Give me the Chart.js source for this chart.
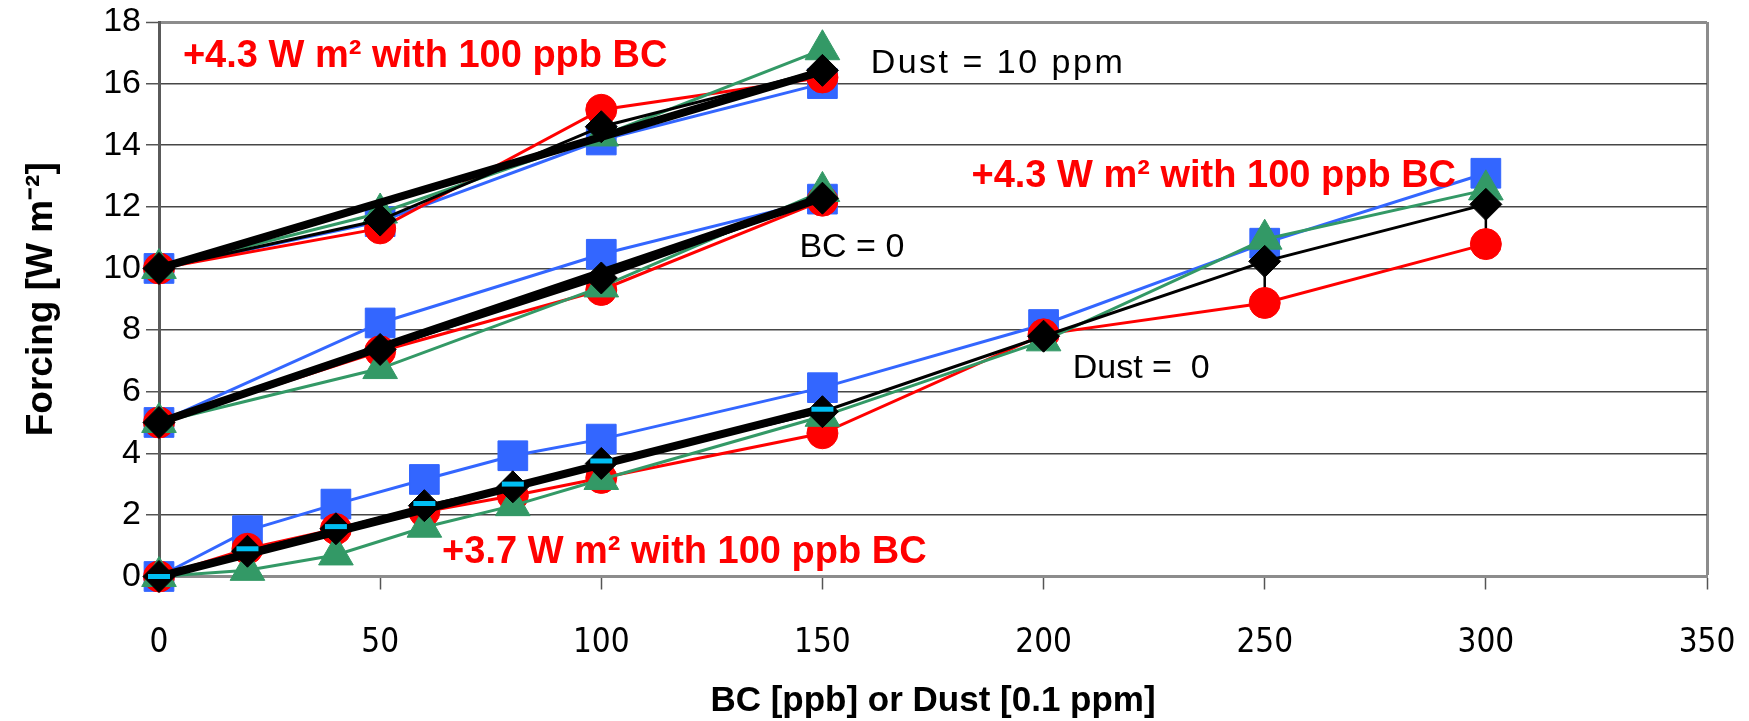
<!DOCTYPE html>
<html>
<head>
<meta charset="utf-8">
<script src="https://cdn.jsdelivr.net/npm/chart.js@4.4.1/dist/chart.umd.min.js"></script>
<style>
html, body { margin: 0; padding: 0; background: #fff; }
#wrap { width: 1749px; height: 721px; }
</style>
</head>
<body>
<div id="wrap"><canvas id="myChart" width="1749" height="721"></canvas></div>
<script>
// Dust = 10 ppm, BC varies
var xA = [0, 50, 100, 150];
var redA = [10, 11.3, 15.15, 16.2];
var blueA = [10, 11.52, 14.17, 16.0];
var greenA = [10, 11.8, 14.3, 17.1];
var blackA = [10, 11.57, 14.6, 16.43];

// BC = 0, dust varies
var xB = [0, 50, 100, 150];
var redB = [5, 7.31, 9.3, 12.2];
var blueB = [5, 8.23, 10.46, 12.25];
var greenB = [5, 6.75, 9.4, 12.5];
var blackB = [5, 7.37, 9.69, 12.28];

// Dust = 0, BC varies
var xC = [0, 20, 40, 60, 80, 100, 150, 200, 250, 300];
var redC = [0, 0.9, 1.54, 2.1, 2.62, 3.2, 4.65, 7.86, 8.88, 10.79];
var blueC = [0, 1.49, 2.35, 3.15, 3.92, 4.46, 6.13, 8.18, 10.82, 13.09];
var greenC = [0, 0.2, 0.7, 1.6, 2.3, 3.15, 5.2, 7.65, 10.95, 12.55];
var blackC = [0, 0.82, 1.55, 2.3, 2.91, 3.67, 5.35, 7.8, 10.23, 12.08];
var lowC = [0, 0.2, 0.75, 1.6, 2.23, 3.1, 5.0, 7.6, 9.2, 10.95];
var highC = [0, 1.3, 2.1, 2.9, 3.6, 4.2, 5.9, 8.0, 11.27, 13.0];

// cyan dash markers
var xCyan = [0, 20, 40, 60, 80, 100, 150];
var cyanC = [0, 0.9, 1.62, 2.37, 3.0, 3.75, 5.43];

// straight fit lines
var xFit = [0, 150];
var fitA = [10, 16.4];
var fitB = [5, 12.3];
var fitC = [0, 5.45];

var xTicks = [0, 50, 100, 150, 200, 250, 300, 350];
var yTicks = [0, 2, 4, 6, 8, 10, 12, 14, 16, 18];

var notes = [
	{ text: "+4.3 W m\u00b2 with 100 ppb BC", x: 5.4, y: 16.54, color: "#ff0000", bold: true },
	{ text: "+4.3 W m\u00b2 with 100 ppb BC", x: 183.7, y: 12.65, color: "#ff0000", bold: true },
	{ text: "+3.7 W m\u00b2 with 100 ppb BC", x: 64, y: 0.45, color: "#ff0000", bold: true },
	{ text: "Dust = 10 ppm", x: 160.9, y: 16.35, color: "#000", bold: false, spacing: "2.5px" },
	{ text: "BC = 0", x: 144.8, y: 10.36, color: "#000", bold: false },
	{ text: "Dust =  0", x: 206.6, y: 6.44, color: "#000", bold: false }
];

var RED = "#ff0000", BLUE = "#3366ff", GREEN = "#339966", BLACK = "#000000", CYAN = "#00bff3";

function pts(xs, ys) {
	var out = [];
	for (var i = 0; i < xs.length; i++) out.push({ x: xs[i], y: ys[i] });
	return out;
}

function series(xs, ys, color, style, radius, order) {
	return {
		data: pts(xs, ys),
		showLine: true,
		borderColor: color,
		backgroundColor: color,
		borderWidth: 3,
		pointStyle: style,
		pointRadius: radius,
		pointBorderWidth: 1,
		pointBorderColor: color,
		pointBackgroundColor: color,
		clip: false,
		order: order
	};
}

var datasets = [];
[[xA, blueA], [xB, blueB], [xC, blueC]].forEach(function (g) { datasets.push(series(g[0], g[1], BLUE, "rect", 21, 7)); });
[[xA, redA], [xB, redB], [xC, redC]].forEach(function (g) { datasets.push(series(g[0], g[1], RED, "circle", 15.5, 6)); });
[[xA, greenA], [xB, greenB], [xC, greenC]].forEach(function (g) { datasets.push(series(g[0], g[1], GREEN, "triangle", 20, 5)); });
[[xA, blackA], [xB, blackB], [xC, blackC]].forEach(function (g) { datasets.push(series(g[0], g[1], BLACK, "rectRot", 16, 4)); });
[fitA, fitB, fitC].forEach(function (f) {
	datasets.push({
		data: pts(xFit, f), showLine: true, borderColor: BLACK, borderWidth: 8,
		pointRadius: 0, clip: false, order: 3
	});
});
datasets.push({
	data: pts(xCyan, cyanC), showLine: false, pointStyle: "line", pointRadius: 11,
	pointBorderWidth: 5, pointBorderColor: CYAN, pointBackgroundColor: CYAN, clip: false, order: 2
});

var errorBars = {
	id: "errorBars",
	beforeDatasetsDraw: function (chart) {
		var c = chart.ctx, xs = chart.scales.x, ys = chart.scales.y;
		c.save();
		c.strokeStyle = "#000";
		c.lineWidth = 2.5;
		for (var i = 0; i < xC.length; i++) {
			var px = xs.getPixelForValue(xC[i]);
			var lo = ys.getPixelForValue(lowC[i]), hi = ys.getPixelForValue(highC[i]);
			c.beginPath();
			c.moveTo(px, lo); c.lineTo(px, hi);
			c.moveTo(px - 7, lo); c.lineTo(px + 7, lo);
			c.moveTo(px - 7, hi); c.lineTo(px + 7, hi);
			c.stroke();
		}
		c.restore();
	}
};

var labels = {
	id: "labels",
	afterDatasetsDraw: function (chart) {
		var c = chart.ctx, xs = chart.scales.x, ys = chart.scales.y;
		c.save();
		c.textAlign = "left";
		c.textBaseline = "alphabetic";
		notes.forEach(function (n) {
			c.font = n.bold ? "bold 38px 'Liberation Sans', Arial, sans-serif" : "34px 'Liberation Sans', Arial, sans-serif";
			c.letterSpacing = n.spacing || "0px";
			c.fillStyle = n.color;
			c.fillText(n.text, xs.getPixelForValue(n.x), ys.getPixelForValue(n.y));
		});
		c.restore();
	}
};

var ctx = document.getElementById("myChart");
var myChart = new Chart(ctx, {
	type: "scatter",
	data: { datasets: datasets },
	plugins: [errorBars, labels],
	options: {
		responsive: false,
		animation: false,
		devicePixelRatio: 1,
		layout: { padding: { left: 0, right: 42, top: 19.5, bottom: 0 } },
		plugins: { legend: { display: false }, tooltip: { enabled: false } },
		scales: {
			x: {
				type: "linear", min: 0, max: 350,
				afterBuildTicks: function (s) { s.ticks = xTicks.map(function (v) { return { value: v }; }); },
				ticks: {
					padding: 3, color: "#000",
					font: { family: "'Liberation Sans Narrow', 'DejaVu Sans Condensed', 'Liberation Sans', sans-serif", size: 33, lineHeight: 3.06 }
				},
				grid: {
					drawOnChartArea: true,
					color: function (c) { return c.tick && c.tick.value === 350 ? "#8c8c8c" : "rgba(0,0,0,0)"; },
					lineWidth: function (c) { return c.tick && c.tick.value === 350 ? 3 : 1; },
					tickColor: "#555", tickLength: 13, tickWidth: 1.5
				},
				border: { color: "#8c8c8c", width: 3 },
				title: {
					display: true, text: "BC [ppb] or Dust [0.1 ppm]", color: "#000",
					font: { family: "'Liberation Sans', Arial, sans-serif", weight: "bold", size: 35, lineHeight: 1 },
					padding: { top: 0, bottom: 2 }
				},
				afterFit: function (s) { s.height = 144.5; }
			},
			y: {
				type: "linear", min: 0, max: 18,
				afterBuildTicks: function (s) { s.ticks = yTicks.map(function (v) { return { value: v }; }); },
				ticks: {
					padding: 5, color: "#000",
					font: { family: "'Liberation Sans', Arial, sans-serif", size: 34, lineHeight: 1 }
				},
				grid: {
					color: function (c) {
						if (!c.tick) return "#474747";
						if (c.tick.value === 18) return "#8c8c8c";
						if (c.tick.value === 0) return "rgba(0,0,0,0)";
						return "#474747";
					},
					lineWidth: function (c) { return c.tick && c.tick.value === 18 ? 3 : 1.5; },
					tickColor: "#555", tickLength: 13, tickWidth: 1.5
				},
				border: { color: "#5a5a5a", width: 3 },
				title: {
					display: true, text: "Forcing [W m\u207b\u00b2]", color: "#000",
					font: { family: "'Liberation Sans', Arial, sans-serif", weight: "bold", size: 37, lineHeight: 1.2 },
					padding: { top: 20, bottom: 0 }
				},
				afterFit: function (s) { s.width = 159; }
			}
		}
	}
});
</script>
</body>
</html>
